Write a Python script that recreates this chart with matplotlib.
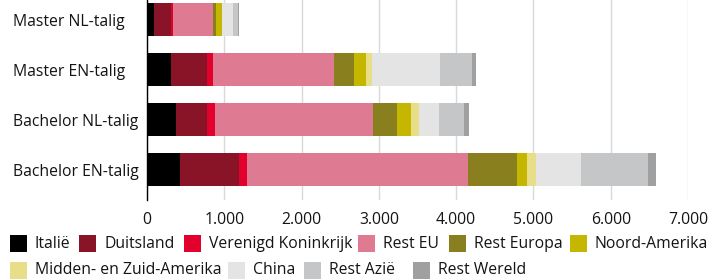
import matplotlib
matplotlib.use("Agg")
import matplotlib.pyplot as plt
from matplotlib.patches import Rectangle

plt.rcParams['font.family'] = ['Open Sans', 'DejaVu Sans']

categories = ["Master NL-talig", "Master EN-talig", "Bachelor NL-talig", "Bachelor EN-talig"]
series_names = ["Italië", "Duitsland", "Verenigd Koninkrijk", "Rest EU", "Rest Europa",
                "Noord-Amerika", "Midden- en Zuid-Amerika", "China", "Rest Azië", "Rest Wereld"]
italie = [87, 307, 379, 430]
duitsland = [220, 469, 398, 760]
vk = [30, 74, 103, 107]
rest_eu = [513, 1574, 2039, 2856]
rest_europa = [43, 250, 315, 640]
noord_amerika = [73, 155, 181, 125]
midden_zuid = [9, 87, 98, 116]
china = [134, 880, 264, 579]
rest_azie = [64, 408, 320, 867]
rest_wereld = [13, 48, 65, 102]
colors = ["#000000", "#8A1427", "#E2002C", "#DE7B93", "#8A7F1F",
          "#C5B700", "#E8DE8A", "#E3E4E3", "#C5C6C8", "#A0A0A1"]
xticks = [0, 1000, 2000, 3000, 4000, 5000, 6000, 7000]
xticklabels = ["0", "1.000", "2.000", "3.000", "4.000", "5.000", "6.000", "7.000"]

series = [italie, duitsland, vk, rest_eu, rest_europa, noord_amerika,
          midden_zuid, china, rest_azie, rest_wereld]

W, H = 722, 279
fig = plt.figure(figsize=(W/100, H/100), dpi=100)
ax = fig.add_axes([147/W, 1 - 200/H, (688 - 147)/W, 200/H])

ypos = list(range(len(categories)))
left = [0] * len(categories)
for name, vals, c in zip(series_names, series, colors):
    ax.barh(ypos, vals, left=left, height=0.66, color=c, edgecolor='none', zorder=3)
    left = [l + v for l, v in zip(left, vals)]

FS = 11.3
ax.set_xlim(0, 7000)
ax.set_ylim(3.61, -0.40)
ax.set_xticks(xticks)
ax.set_xticklabels(xticklabels, fontsize=FS, color='#141414')
ax.set_yticks(ypos)
ax.set_yticklabels(categories, fontsize=FS, color='#141414', ha='left')
ax.tick_params(axis='x', length=0, pad=9)
ax.tick_params(axis='y', length=0, pad=(147 - 13) * 0.72)
for s in ['top', 'right', 'bottom']:
    ax.spines[s].set_visible(False)
ax.spines['left'].set_color('black')
ax.spines['left'].set_linewidth(1.0)
ax.spines['left'].set_zorder(4)
ax.grid(axis='x', color='#d9d9d9', linewidth=1.0, zorder=0)
ax.set_axisbelow(True)

# legend rows (manual layout, pixel positions)
rows = [(243.5, [10, 79, 184, 358, 449, 570], range(0, 6)),
        (270.0, [10, 228, 304, 413], range(6, 10))]
sz = 17
for yc, xs, idxs in rows:
    for x, i in zip(xs, idxs):
        fig.add_artist(Rectangle((x/W, 1 - (yc + sz/2)/H), sz/W, sz/H,
                                 transform=fig.transFigure, facecolor=colors[i],
                                 edgecolor='none'))
        fig.text((x + sz + 8)/W, 1 - yc/H, series_names[i], fontsize=FS,
                 color='#141414', ha='left', va='center')

fig.savefig("out.png", dpi=100)
